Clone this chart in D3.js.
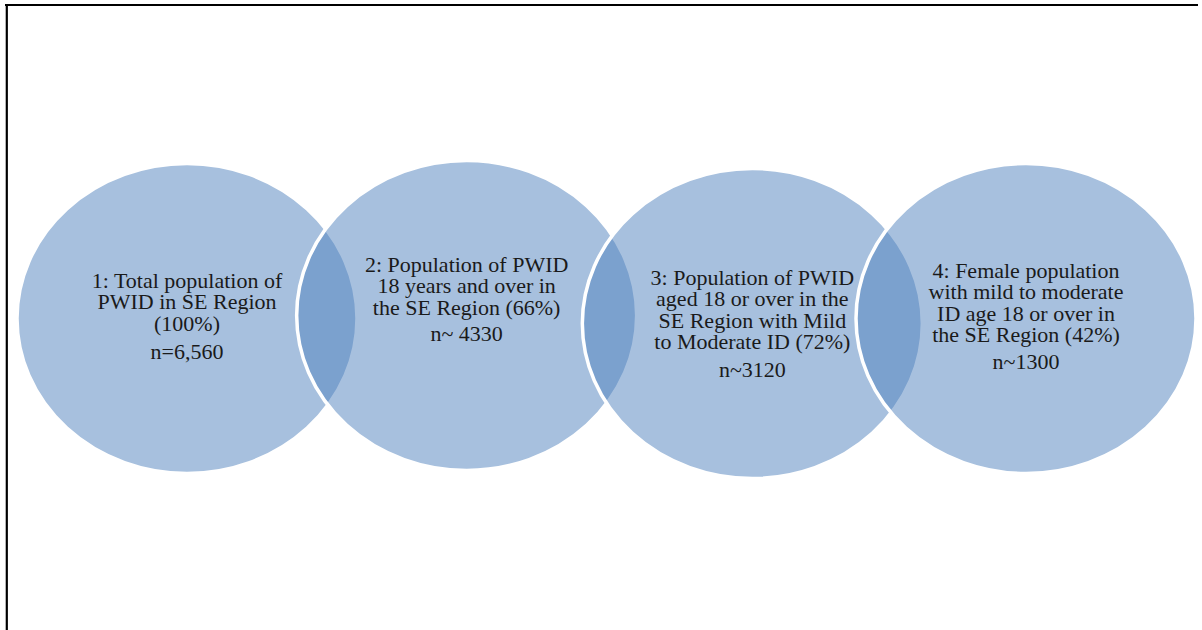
<!DOCTYPE html>
<html>
<head>
<meta charset="utf-8">
<script src="https://cdn.jsdelivr.net/npm/d3@7/dist/d3.min.js"></script>
<style>
  html, body { margin: 0; padding: 0; background: #fff; }
  svg { display: block; }
</style>
</head>
<body>
<script>
// ---- data ----
const steps = ["1", "2", "3", "4"];
const descriptions = [
  ["1: Total population of", "PWID in SE Region", "(100%)"],
  ["2: Population of PWID", "18 years and over in", "the SE Region (66%)"],
  ["3: Population of PWID", "aged 18 or over in the", "SE Region with Mild", "to Moderate ID (72%)"],
  ["4: Female population", "with mild to moderate", "ID age 18 or over in", "the SE Region (42%)"]
];
const percents = [100, 66, 72, 42];
const counts = ["n=6,560", "n~ 4330", "n~3120", "n~1300"];

// ---- layout ----
const W = 1202, H = 630;
const svg = d3.select("body").append("svg").attr("width", W).attr("height", H);

const x = d3.scalePoint().domain(steps).range([187, 1026]);
const y = d3.scaleLinear().domain([0, 1]).range([318.5, 318.5]);
const nudgeX = [0, 0, 6, 0];
const nudgeY = [0, -3, 5, 0];
const textTop = [-30.5, -43.5, -38.5, -40.5];
const nGap = [28, 26, 28, 27];
const rx = 170, ry = 155;
const lineH = 21.3;

const nodes = steps.map((s, i) => ({
  id: s,
  lines: descriptions[i],
  pct: percents[i],
  n: counts[i],
  cx: x(s) + nudgeX[i],
  cy: y(0) + nudgeY[i],
  i
}));

// frame
svg.append("line").attr("x1", 5).attr("x2", 1198).attr("y1", 5).attr("y2", 5)
  .attr("stroke", "#000").attr("stroke-width", 2.2);
svg.append("line").attr("x1", 6.8).attr("x2", 6.8).attr("y1", 4).attr("y2", H)
  .attr("stroke", "#000").attr("stroke-width", 2.2);

// circles (semi-transparent fill + opaque white outline)
const g = svg.append("g");
nodes.forEach(d => {
  g.append("ellipse")
    .attr("cx", d.cx).attr("cy", d.cy).attr("rx", rx).attr("ry", ry)
    .attr("fill", "#4f81bd").attr("fill-opacity", 0.5)
    .attr("stroke", "#ffffff").attr("stroke-width", 3.5);
});

// labels
const tg = svg.append("g")
  .attr("font-family", "'Liberation Serif', 'Times New Roman', serif")
  .attr("font-size", 22).attr("fill", "#1a1a1a").attr("text-anchor", "middle");

nodes.forEach(d => {
  const y0 = d.cy + textTop[d.i];
  d.lines.forEach((ln, k) => {
    tg.append("text").attr("x", d.cx).attr("y", y0 + k * lineH).text(ln);
  });
  tg.append("text").attr("x", d.cx)
    .attr("y", y0 + (d.lines.length - 1) * lineH + nGap[d.i])
    .text(d.n);
});
</script>
</body>
</html>
